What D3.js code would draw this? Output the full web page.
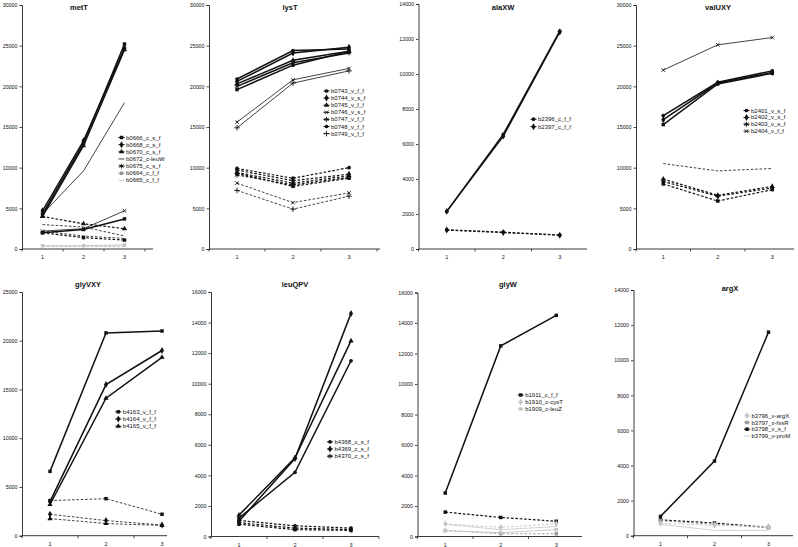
<!DOCTYPE html>
<html><head><meta charset="utf-8">
<script src="https://cdn.jsdelivr.net/npm/d3@7"></script>
<style>
body{margin:0;background:#fff;}
svg{display:block;font-family:"Liberation Sans",Arial,sans-serif;}
</style></head>
<body><svg id="c" width="798" height="547"></svg>
<script>
// ---------------- DATA ----------------
const categories = [1, 2, 3];

const metT_yTicks = [0, 5000, 10000, 15000, 20000, 25000, 30000];
const metT_names = ["b0666_c_s_f","b0668_c_s_f","b0670_c_s_f","b0672_c-leuW","b0675_c_s_f","b0664_c_f_f","b0665_c_f_f"];
const metT_values = [
  [4300, 13000, 25200], [4700, 13300, 24700], [4000, 12700, 24500], [4300, 9600, 18000],
  [2000, 2400, 3700], [2200, 2500, 4700], [400, 400, 500],
  [4000, 3100, 2500], [3000, 2700, 1600], [2000, 1400, 1100], [2200, 1600, 1300], [300, 300, 300]
];

const lysT_yTicks = [0, 5000, 10000, 15000, 20000, 25000, 30000];
const lysT_names = ["b0743_v_f_f","b0744_v_s_f","b0745_v_f_f","b0746_v_s_f","b0747_v_f_f","b0748_v_f_f","b0749_v_f_f"];
const lysT_values = [
  [20900, 24400, 24600], [20600, 24100, 24800], [20300, 23200, 24300], [20000, 22900, 24100],
  [19600, 22600, 24300], [15600, 20800, 22200], [14900, 20400, 21900],
  [9900, 8700, 10000], [9700, 8400, 9200], [9400, 8100, 9000], [9100, 7900, 8800],
  [9300, 7700, 8700], [8100, 5700, 6900], [7200, 4900, 6500]
];

const alaXW_yTicks = [0, 2000, 4000, 6000, 8000, 10000, 12000, 14000];
const alaXW_names = ["b2396_c_f_f","b2397_c_f_f"];
const alaXW_values = [
  [2150, 6550, 12450], [2150, 6450, 12400], [1100, 960, 800], [1080, 940, 790]
];

const valUXY_yTicks = [0, 5000, 10000, 15000, 20000, 25000, 30000];
const valUXY_names = ["b2401_v_s_f","b2402_v_s_f","b2403_v_s_f","b2404_v_f_f"];
const valUXY_values = [
  [16400, 20500, 21900], [15900, 20400, 21700], [15300, 20300, 21600], [22000, 25100, 26000],
  [8600, 6600, 7700], [8300, 6500, 7500], [8000, 5900, 7300], [10500, 9600, 9900]
];

const glyVXY_yTicks = [0, 5000, 10000, 15000, 20000, 25000];
const glyVXY_names = ["b4163_v_f_f","b4164_v_f_f","b4165_v_f_f"];
const glyVXY_values = [
  [6600, 20800, 21000], [3500, 15500, 19000], [3200, 14100, 18300],
  [3600, 3800, 2200], [2200, 1550, 1100], [1750, 1250, 1050]
];

const leuQPV_yTicks = [0, 2000, 4000, 6000, 8000, 10000, 12000, 14000, 16000];
const leuQPV_names = ["b4368_c_s_f","b4369_c_s_f","b4370_c_s_f"];
const leuQPV_values = [
  [1200, 4200, 11500], [1000, 5100, 14600], [1400, 5150, 12800],
  [1050, 700, 550], [900, 550, 450], [800, 450, 400]
];

const glyW_yTicks = [0, 2000, 4000, 6000, 8000, 10000, 12000, 14000, 16000];
const glyW_names = ["b1911_c_f_f","b1910_c-cysT","b1909_c-leuZ"];
const glyW_values = [
  [2850, 12500, 14500], [1600, 1250, 1000],
  [830, 600, 830], [800, 450, 650], [400, 180, 180], [380, 250, 450]
];

const argX_yTicks = [0, 2000, 4000, 6000, 8000, 10000, 12000, 14000];
const argX_names = ["b3796_v-argX","b3797_v-hisR","b3798_v_s_f","b3799_v-proM"];
const argX_values = [
  [1100, 4250, 11600], [900, 720, 480], [850, 650, 450], [650, 300, 300], [700, 600, 520]
];

// ---------------- STYLES ----------------
const BK = "#111", G1 = "#999", G2 = "#c4c4c4";
const st = (dash, w, c, m) => ({dash, w, c, m});
const H = m => st(false, 1.5, BK, m), T = m => st(false, 0.8, BK, m),
      D = m => st(true, 1.2, BK, m), TD = m => st(true, 0.8, BK, m);

const panels = [
  {title:"metT", values:metT_values, yTicks:metT_yTicks, names:metT_names,
   left:22, bw:41, end:153, top:5, bottom:249, tx:79, ty:10,
   styles:[H("square"),H("diamond"),H("triangle"),T(null),H("square"),T("times"),st(false,1,G2,"square"),
           D("triangle"),TD(null),D("square"),TD(null),st(true,1,G2,null)],
   leg:[H("square"),H("diamond"),H("triangle"),T(null),H("asterisk"),st(false,1,G1,"square"),st(false,0.8,G2,null)],
   lx:121.5, ly:137.5, ls:7.15},
  {title:"lysT", values:lysT_values, yTicks:lysT_yTicks, names:lysT_names,
   left:209, bw:56, end:380, top:5, bottom:249, tx:290, ty:10,
   styles:[H("circle"),H("diamond"),H("triangle"),H("asterisk"),H("square"),T("times"),T("plus"),
           D("circle"),D("diamond"),D("triangle"),D("asterisk"),D("square"),TD("times"),TD("plus")],
   leg:[H("circle"),H("diamond"),H("triangle"),H("times"),H("asterisk"),H("circle"),T("plus")],
   lx:326.5, ly:91, ls:7.1},
  {title:"alaXW", values:alaXW_values, yTicks:alaXW_yTicks, names:alaXW_names,
   left:418.5, bw:56.5, end:587, top:4, bottom:249, tx:503, ty:10,
   styles:[H("circle"),H("diamond"),D("circle"),D("diamond")],
   leg:[H("circle"),H("diamond")], lx:533.5, ly:119.2, ls:7.5},
  {title:"valUXY", values:valUXY_values, yTicks:valUXY_yTicks, names:valUXY_names,
   left:636, bw:54.5, end:794, top:5, bottom:249, tx:718, ty:10,
   styles:[H("circle"),H("diamond"),H("square"),T("times"),D("triangle"),D("diamond"),D("square"),TD(null)],
   leg:[H("circle"),H("diamond"),H("asterisk"),T("times")], lx:746.5, ly:110.5, ls:6.9},
  {title:"glyVXY", values:glyVXY_values, yTicks:glyVXY_yTicks, names:glyVXY_names,
   left:22, bw:56, end:167, top:292, bottom:535.7, tx:88, ty:287,
   styles:[H("square"),H("diamond"),H("triangle"),TD("square"),TD("diamond"),TD("triangle")],
   leg:[H("square"),H("diamond"),H("triangle")], lx:118.3, ly:411.8, ls:7.2},
  {title:"leuQPV", values:leuQPV_values, yTicks:leuQPV_yTicks, names:leuQPV_names,
   left:211, bw:56, end:379, top:292, bottom:536.5, tx:295, ty:287,
   styles:[H("circle"),H("diamond"),H("triangle"),D("circle"),D("diamond"),D("square")],
   leg:[H("circle"),H("diamond"),H("asterisk")], lx:330, ly:441.8, ls:7.2},
  {title:"glyW", values:glyW_values, yTicks:glyW_yTicks, names:glyW_names,
   left:417.5, bw:55.5, end:582, top:292.5, bottom:536.5, tx:508, ty:287,
   styles:[H("square"),D("square"),st(true,0.9,G2,"diamond"),st(false,0.8,G2,null),st(true,0.9,G1,"square"),st(false,0.9,G2,"square")],
   leg:[H("square"),st(false,0.8,G2,"diamond"),st(false,0.8,G2,"square")], lx:520.7, ly:395, ls:7},
  {title:"argX", values:argX_values, yTicks:argX_yTicks, names:argX_names,
   left:633.5, bw:54, end:793, top:290, bottom:535.7, tx:730, ty:291,
   styles:[H("square"),D("square"),st(true,0.9,G1,"square"),st(false,0.8,G2,null),st(true,0.9,G2,"diamond")],
   leg:[st(false,0.8,G2,"diamond"),st(false,0.8,G1,"square"),H("square"),st(false,0.8,G2,null)],
   lx:747, ly:415.8, ls:6.7}
];

// ---------------- DRAW ----------------
const svg = d3.select("#c");
const symMap = {square:d3.symbolSquare, diamond:d3.symbolDiamond, triangle:d3.symbolTriangle,
  circle:d3.symbolCircle, asterisk:d3.symbolAsterisk, times:d3.symbolTimes, plus:d3.symbolPlus};
const sizeMap = {square:12, diamond:14, triangle:12, circle:11, asterisk:16, times:10, plus:12};
const strokeSyms = new Set(["asterisk","times","plus"]);

function marker(g, s, x, y) {
  if (!s.m) return;
  const p = g.append("path")
    .attr("d", d3.symbol().type(symMap[s.m]).size(sizeMap[s.m])())
    .attr("transform", `translate(${x},${y})`);
  if (strokeSyms.has(s.m)) p.attr("fill","none").attr("stroke", s.c).attr("stroke-width", 0.9);
  else p.attr("fill", s.c);
}

panels.forEach(P => {
  const g = svg.append("g");
  const yMax = d3.max(P.yTicks);
  const x = d3.scaleLinear().domain([0.5, 3.5]).range([P.left, P.left + 3 * P.bw]);
  const y = d3.scaleLinear().domain([0, yMax]).range([P.bottom, P.top]);

  // y axis
  const ya = g.append("g").attr("transform", `translate(${P.left},0)`)
    .call(d3.axisLeft(y).tickValues(P.yTicks).tickSize(2.5).tickPadding(2).tickFormat(d3.format("d")));
  ya.select(".domain").attr("stroke", "#222").attr("stroke-width", 0.9);
  ya.selectAll(".tick line").attr("stroke", "#222").attr("stroke-width", 0.8);
  ya.selectAll("text").attr("font-size", 5.3).attr("fill", "#111").attr("font-family", "Liberation Sans, Arial");

  // x axis
  const xg = g.append("g");
  xg.append("line").attr("x1", P.left).attr("x2", P.end).attr("y1", P.bottom).attr("y2", P.bottom)
    .attr("stroke", "#222").attr("stroke-width", 0.9);
  [0.5, 1.5, 2.5, 3.5].filter(t => x(t) <= P.end + 0.5).forEach(t => {
    xg.append("line").attr("x1", x(t)).attr("x2", x(t)).attr("y1", P.bottom).attr("y2", P.bottom + 2.5)
      .attr("stroke", "#222").attr("stroke-width", 0.8);
  });
  categories.forEach(c => {
    xg.append("text").attr("x", x(c)).attr("y", P.bottom + 10).attr("text-anchor", "middle")
      .attr("font-size", 5.5).attr("fill", "#111").text(c);
  });

  // title
  g.append("text").attr("x", P.tx).attr("y", P.ty).attr("text-anchor", "middle")
    .attr("font-size", 7.5).attr("font-weight", "bold").attr("fill", "#111").text(P.title);

  // lines
  const line = d3.line().x((d, i) => x(categories[i])).y(d => y(d));
  P.values.forEach((vals, k) => {
    const s = P.styles[k];
    g.append("path").datum(vals).attr("d", line).attr("fill", "none")
      .attr("stroke", s.c).attr("stroke-width", s.w)
      .attr("stroke-dasharray", s.dash ? "2.6,1.8" : null);
    vals.forEach((v, i) => marker(g, s, x(categories[i]), y(v)));
  });

  // legend
  P.names.forEach((n, k) => {
    const s = P.leg[k];
    const yy = P.ly + k * P.ls;
    g.append("line").attr("x1", P.lx - 3).attr("x2", P.lx + 3).attr("y1", yy).attr("y2", yy)
      .attr("stroke", s.c).attr("stroke-width", Math.min(s.w, 1));
    marker(g, s, P.lx, yy);
    g.append("text").attr("x", P.lx + 4.5).attr("y", yy + 2).attr("font-size", 6)
      .attr("fill", "#111").text(n);
  });
});
</script></body></html>
